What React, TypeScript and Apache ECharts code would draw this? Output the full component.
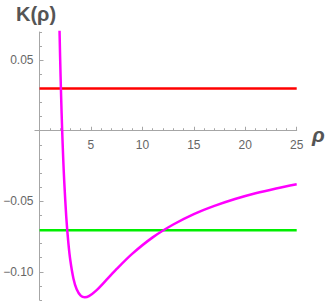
import React, { useEffect, useRef } from "react";
import * as echarts from "echarts";

const rho = [1.9, 2.0, 2.1, 2.2, 2.3, 2.4, 2.6, 2.8, 3.0, 3.3, 3.6, 4.0, 4.4, 4.8, 5.5, 6.5, 7.5, 9, 11, 13, 15, 17, 19, 21, 23, 25];
const K = [0.0869, 0.0525, 0.0241, 0.0004, -0.0193, -0.0357, -0.0612, -0.0793, -0.0922, -0.1049, -0.1122, -0.1169, -0.1181, -0.1173, -0.1134, -0.1058, -0.098, -0.0873, -0.0756, -0.0665, -0.0591, -0.0533, -0.0484, -0.0443, -0.0409, -0.0379];
const redLevel = 0.03;
const greenLevel = -0.0705;
const xRange = [0, 25];
const xMajor = [5, 10, 15, 20, 25];
const xMinor = [1, 2, 3, 4, 6, 7, 8, 9, 11, 12, 13, 14, 16, 17, 18, 19, 21, 22, 23, 24];
const yLabels = [-0.1, -0.05, 0.05];
const yMajor = [-0.1, -0.05, 0.05];
const yMinor = [-0.12, -0.11, -0.09, -0.08, -0.07, -0.06, -0.04, -0.03, -0.02, -0.01, 0.01, 0.02, 0.03, 0.04, 0.06, 0.07];

export default function App() {
  const ref = useRef<HTMLDivElement>(null);
  useEffect(() => {
    const chart = echarts.init(ref.current!, null, { renderer: "svg" });
    const axisColor = "#a6a6a6";
    const labelColor = "#666666";
    const font = "Liberation Sans, Arial, sans-serif";
    const X_MIN = -0.45, X_MAX = 25, Y_MIN = -0.12, Y_MAX = 0.07;
    const TOP = 32, BOTTOM = 2, LEFT = 34.9, RIGHT = 30.3, H = 302;
    const plotH = H - TOP - BOTTOM;
    const zeroY = TOP + (Y_MAX / (Y_MAX - Y_MIN)) * plotH;
    const zeroX = LEFT + ((0 - X_MIN) / (X_MAX - X_MIN)) * (327 - LEFT - RIGHT);
    const common = { containLabel: false, outerBoundsMode: "none" };
    const gridMain = { ...common, left: LEFT, right: RIGHT, top: TOP, bottom: BOTTOM };
    const gridX = { ...common, left: LEFT, right: RIGHT, top: TOP, bottom: H - zeroY };
    const gridY = { ...common, left: zeroX, right: RIGHT, top: TOP, bottom: BOTTOM };
    const hidden = { show: false };
    const noSplit = { splitLine: { show: false } };
    chart.setOption({
      animation: false,
      grid: [gridMain, gridX, gridX, gridY, gridY],
      xAxis: [
        { type: "value", gridIndex: 0, min: X_MIN, max: X_MAX, ...hidden },
        {
          type: "value", gridIndex: 1, min: X_MIN, max: X_MAX, position: "bottom", ...noSplit,
          axisLine: { show: true, onZero: false, lineStyle: { color: axisColor, width: 1 } },
          axisTick: { show: true, inside: true, length: 4, customValues: xMajor, lineStyle: { color: axisColor } },
          axisLabel: { show: true, customValues: xMajor, color: labelColor, fontSize: 12, fontFamily: font, margin: 8 },
        },
        {
          type: "value", gridIndex: 2, min: X_MIN, max: X_MAX, position: "bottom", ...noSplit,
          axisLine: { show: false, onZero: false },
          axisTick: { show: true, inside: true, length: 2.5, customValues: xMinor, lineStyle: { color: axisColor } },
          axisLabel: { show: false },
        },
        { type: "value", gridIndex: 3, min: 0, max: X_MAX, ...hidden },
        { type: "value", gridIndex: 4, min: 0, max: X_MAX, ...hidden },
      ],
      yAxis: [
        { type: "value", gridIndex: 0, min: Y_MIN, max: Y_MAX, ...hidden },
        { type: "value", gridIndex: 1, min: 0, max: Y_MAX, ...hidden },
        { type: "value", gridIndex: 2, min: 0, max: Y_MAX, ...hidden },
        {
          type: "value", gridIndex: 3, min: Y_MIN, max: Y_MAX, position: "left", ...noSplit,
          axisLine: { show: true, onZero: false, lineStyle: { color: axisColor, width: 1 } },
          axisTick: { show: true, inside: true, length: 4, customValues: yMajor, lineStyle: { color: axisColor } },
          axisLabel: {
            show: true,
            customValues: yLabels,
            color: labelColor,
            fontSize: 12,
            fontFamily: font,
            margin: 6,
            formatter: (v: number) => (v < 0 ? "\u2212" : "") + Math.abs(v).toFixed(2),
          },
        },
        {
          type: "value", gridIndex: 4, min: Y_MIN, max: Y_MAX, position: "left", ...noSplit,
          axisLine: { show: false, onZero: false },
          axisTick: { show: true, inside: true, length: 2.5, customValues: yMinor, lineStyle: { color: axisColor } },
          axisLabel: { show: false },
        },
      ],
      series: [
        {
          type: "line",
          xAxisIndex: 0,
          yAxisIndex: 0,
          data: xRange.map((x) => [x, redLevel]),
          symbol: "none",
          lineStyle: { color: "#ff0000", width: 2.5 },
        },
        {
          type: "line",
          xAxisIndex: 0,
          yAxisIndex: 0,
          data: xRange.map((x) => [x, greenLevel]),
          symbol: "none",
          lineStyle: { color: "#00ee00", width: 2.5 },
        },
        {
          type: "line",
          xAxisIndex: 0,
          yAxisIndex: 0,
          data: rho.map((r, i) => [r, K[i]]),
          symbol: "none",
          smooth: 0.3,
          clip: true,
          lineStyle: { color: "#ff00ff", width: 2.5 },
        },
      ],
      graphic: [
        {
          type: "text",
          left: 16,
          top: 4,
          style: { text: "K(ρ)", font: "bold 20px Liberation Sans, Arial, sans-serif", fill: "#555555" },
        },
        {
          type: "text",
          left: 312,
          top: 124,
          style: { text: "ρ", font: "italic bold 21px Liberation Sans, Arial, sans-serif", fill: "#555555" },
        },
      ],
    });
    return () => chart.dispose();
  }, []);
  return <div ref={ref} style={{ width: 327, height: 302, position: "absolute", left: 0, top: 0 }} />;
}
